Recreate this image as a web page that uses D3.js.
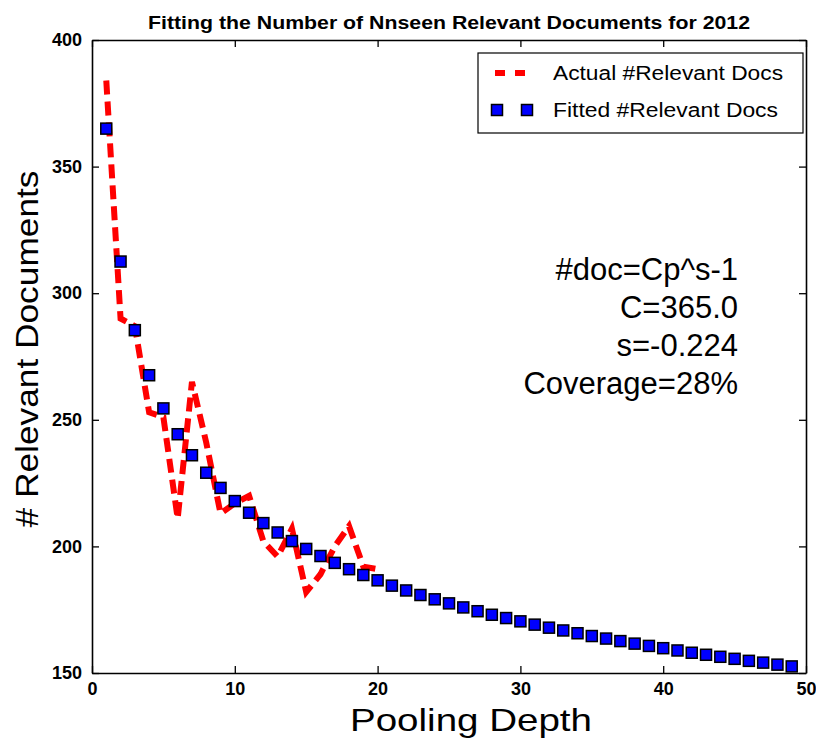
<!DOCTYPE html>
<html>
<head>
<meta charset="utf-8">
<script src="https://cdn.jsdelivr.net/npm/d3@7"></script>
<style>
  body { margin: 0; background: #fff; }
  svg { display: block; font-family: "Liberation Sans", Arial, sans-serif; }
</style>
</head>
<body>
<svg id="chart" width="816" height="743"></svg>
<script>
// ----------------- DATA ----------------- //
var actualDepth = [1, 2, 3, 4, 5, 6, 7, 8, 9, 10, 11, 12, 13, 14, 15, 16, 17, 18, 19, 20];
var actualDocs = [384, 290, 287, 253, 251, 211, 265, 241, 213, 217, 220, 202, 196, 207, 182, 189, 200, 208, 192, 191];

var fittedDepth = [1, 2, 3, 4, 5, 6, 7, 8, 9, 10, 11, 12, 13, 14, 15, 16, 17, 18, 19, 20,
    21, 22, 23, 24, 25, 26, 27, 28, 29, 30, 31, 32, 33, 34, 35, 36, 37, 38, 39, 40,
    41, 42, 43, 44, 45, 46, 47, 48, 49];
var fittedDocs = [365.0, 312.5, 285.4, 267.6, 254.5, 244.3, 236.0, 229.1, 223.1, 217.9,
    213.3, 209.2, 205.5, 202.1, 199.0, 196.2, 193.5, 191.0, 188.7, 186.6,
    184.5, 182.6, 180.8, 179.1, 177.5, 175.9, 174.4, 173.0, 171.7, 170.4,
    169.1, 167.9, 166.8, 165.7, 164.6, 163.6, 162.6, 161.6, 160.7, 159.8,
    158.9, 158.0, 157.2, 156.4, 155.6, 154.8, 154.1, 153.3, 152.6];

var xTicks = [0, 10, 20, 30, 40, 50];
var yTicks = [150, 200, 250, 300, 350, 400];
var noteLines = ['#doc=Cp^s-1', 'C=365.0', 's=-0.224', 'Coverage=28%'];
var legendLabels = ['Actual #Relevant Docs', 'Fitted #Relevant Docs'];

// ----------------- LAYOUT ----------------- //
var plotLeft = 92, plotRight = 806, plotTop = 40, plotBottom = 673;
var svg = d3.select('#chart');

var x = d3.scaleLinear().domain([0, 50]).range([plotLeft, plotRight]);
var y = d3.scaleLinear().domain([150, 400]).range([plotBottom, plotTop]);

// ----------------- AXES ----------------- //
function styleAxis(g) {
    g.selectAll('path.domain').attr('stroke', '#000').attr('stroke-width', 1.6);
    g.selectAll('.tick line').attr('stroke', '#000').attr('stroke-width', 1.3);
    g.selectAll('.tick text')
        .attr('fill', '#000')
        .style('font-size', '18px')
        .style('font-weight', 'bold');
}

svg.append('g')
    .attr('transform', 'translate(0,' + plotBottom + ')')
    .call(d3.axisBottom(x).tickValues(xTicks).tickSize(-7).tickSizeOuter(0).tickPadding(9))
    .call(styleAxis);

svg.append('g')
    .attr('transform', 'translate(0,' + plotTop + ')')
    .call(d3.axisTop(x).tickValues(xTicks).tickSize(-7).tickSizeOuter(0).tickFormat(''))
    .call(styleAxis);

svg.append('g')
    .attr('transform', 'translate(' + plotLeft + ',0)')
    .call(d3.axisLeft(y).tickValues(yTicks).tickSize(-7).tickSizeOuter(0).tickPadding(10))
    .call(styleAxis);

svg.append('g')
    .attr('transform', 'translate(' + plotRight + ',0)')
    .call(d3.axisRight(y).tickValues(yTicks).tickSize(-7).tickSizeOuter(0).tickFormat(''))
    .call(styleAxis);

// ----------------- SERIES ----------------- //
var actual = actualDepth.map(function (d, i) { return [d, actualDocs[i]]; });
var fitted = fittedDepth.map(function (d, i) { return [d, fittedDocs[i]]; });

var line = d3.line()
    .x(d => x(d[0]))
    .y(d => y(d[1]));

svg.append('path')
    .datum(actual)
    .attr('d', line)
    .attr('fill', 'none')
    .attr('stroke', '#ff0000')
    .attr('stroke-width', 6)
    .attr('stroke-dasharray', '14,7');

var size = 11;
svg.append('g')
    .selectAll('rect')
    .data(fitted)
    .join('rect')
    .attr('x', d => x(d[0]) - size / 2)
    .attr('y', d => y(d[1]) - size / 2)
    .attr('width', size)
    .attr('height', size)
    .attr('fill', '#0000ff')
    .attr('stroke', '#000')
    .attr('stroke-width', 1.5);

// ----------------- LEGEND ----------------- //
var legend = svg.append('g');
legend.append('rect')
    .attr('x', 478).attr('y', 53)
    .attr('width', 325).attr('height', 80)
    .attr('fill', '#fff').attr('stroke', '#000').attr('stroke-width', 1.2);

legend.append('line')
    .attr('x1', 495).attr('x2', 525)
    .attr('y1', 73).attr('y2', 73)
    .attr('stroke', '#ff0000').attr('stroke-width', 6)
    .attr('stroke-dasharray', '10,10');

legend.selectAll('rect.mark')
    .data([497, 527])
    .join('rect')
    .attr('class', 'mark')
    .attr('x', d => d - size / 2)
    .attr('y', 110 - size / 2)
    .attr('width', size).attr('height', size)
    .attr('fill', '#0000ff').attr('stroke', '#000').attr('stroke-width', 1.5);

legend.selectAll('text.lab')
    .data(legendLabels)
    .join('text')
    .attr('class', 'lab')
    .attr('x', 553)
    .attr('y', (d, i) => 80 + i * 37)
    .attr('textLength', (d, i) => i === 0 ? 230 : 225)
    .attr('lengthAdjust', 'spacingAndGlyphs')
    .style('font-size', '20px')
    .text(d => d);

// ----------------- ANNOTATION ----------------- //
svg.append('g')
    .selectAll('text')
    .data(noteLines)
    .join('text')
    .attr('x', 738)
    .attr('y', (d, i) => 280 + i * 38)
    .attr('text-anchor', 'end')
    .style('font-size', '31px')
    .text(d => d);

// ----------------- TITLES ----------------- //
svg.append('text')
    .attr('x', 449).attr('y', 29)
    .attr('text-anchor', 'middle')
    .attr('textLength', 602)
    .attr('lengthAdjust', 'spacingAndGlyphs')
    .style('font-size', '19px')
    .style('font-weight', 'bold')
    .text('Fitting the Number of Nnseen Relevant Documents for 2012');

svg.append('text')
    .attr('x', 471).attr('y', 731)
    .attr('text-anchor', 'middle')
    .attr('textLength', 242)
    .attr('lengthAdjust', 'spacingAndGlyphs')
    .style('font-size', '32px')
    .text('Pooling Depth');

svg.append('text')
    .attr('transform', 'translate(38,349) rotate(-90)')
    .attr('text-anchor', 'middle')
    .attr('textLength', 357)
    .attr('lengthAdjust', 'spacingAndGlyphs')
    .style('font-size', '31px')
    .text('# Relevant Documents');
</script>
</body>
</html>
